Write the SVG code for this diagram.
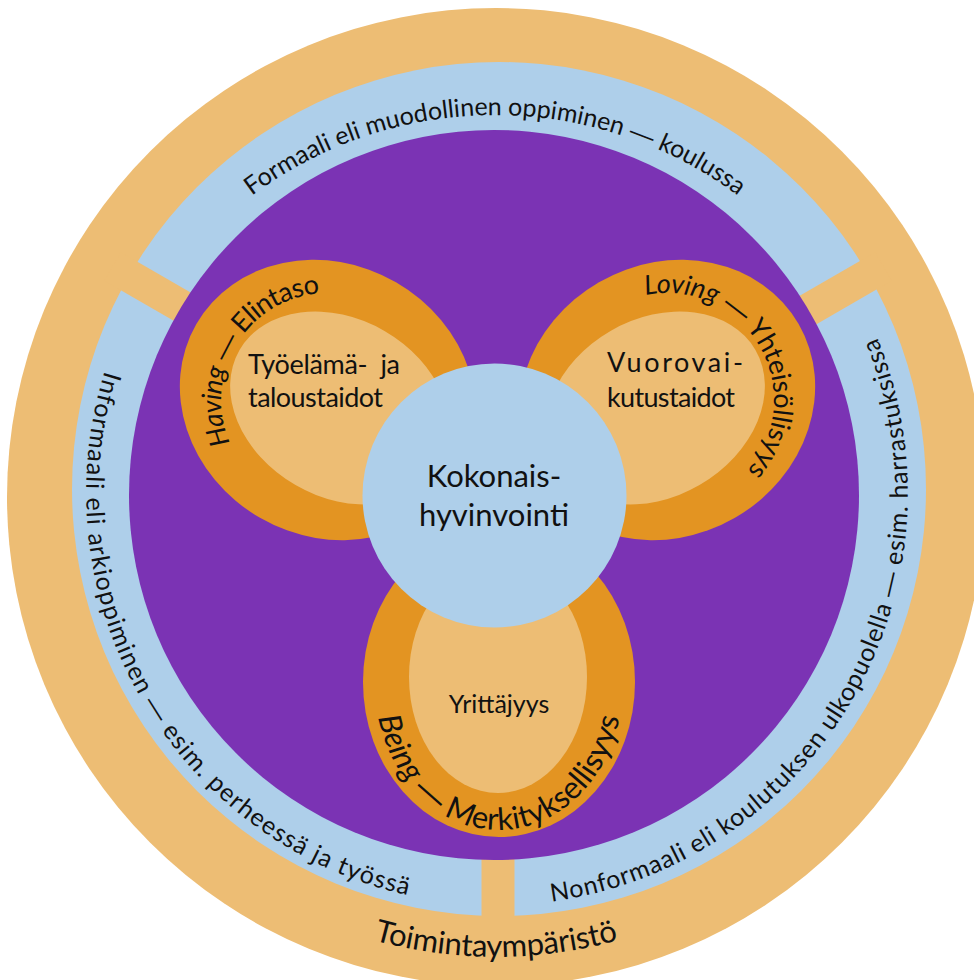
<svg xmlns="http://www.w3.org/2000/svg" xmlns:xlink="http://www.w3.org/1999/xlink" width="974" height="980" viewBox="0 0 974 980">
<style>
.sand{fill:#EDBD74}
.sky{fill:#AECFEA}
.plum{fill:#7B33B4}
.amber{fill:#E39422}
.t{font-family:Lato,"Open Sans","Liberation Sans",sans-serif;fill:#111}
.ring{font-size:25px}
.lab{font-size:27px}
.it{font-style:italic}
.d{font-family:"Liberation Sans",sans-serif;font-style:normal}
</style>
<defs>
<path id="pTop" d="M 88 522 A 407 407 0 0 1 902 522"/>
<path id="pLeft" d="M 291 137.2 A 412 412 0 0 0 703 850.8"/>
<path id="pRight" d="M 291 850.8 A 412 412 0 0 0 703 137.2"/>
<path id="pBottom" d="M 36 497 A 460 460 0 0 0 956 497"/>
<path id="pHaving" d="M 326.1 507 A 107 107 0 1 1 421.6 348.1"/>
<path id="pLoving" d="M 574.3 346.5 A 107 107 0 1 1 667 507"/>
<path id="pBeing" d="M 375 684 A 124 146 0 0 0 623 684"/>
</defs>

<g id="toimintaymparisto">
<circle class="sand" cx="496" cy="497" r="489"/>
</g>

<g id="oppiminen-rengas">
<circle class="sky" cx="499" cy="489" r="427"/>
<rect class="sand" x="481.5" y="489" width="33" height="445"/>
<rect class="sand" x="481.5" y="489" width="33" height="445" transform="rotate(120 498 489)"/>
<rect class="sand" x="481.5" y="489" width="33" height="445" transform="rotate(240 498 489)"/>
</g>

<g id="hyvinvointi-alue">
<circle class="plum" cx="494" cy="495" r="365"/>
</g>

<g id="having">
<ellipse class="amber" cx="328" cy="400" rx="152" ry="136" transform="rotate(30 328 400)"/>
<ellipse class="sand" cx="340" cy="408" rx="116" ry="89" transform="rotate(30 340 408)"/>
<text class="t lab" x="248" y="374" textLength="152" lengthAdjust="spacing">Työelämä-&#160;&#160;ja</text>
<text class="t lab" x="248" y="407" textLength="135" lengthAdjust="spacing">taloustaidot</text>
<text class="t lab"><textPath href="#pHaving" xlink:href="#pHaving" startOffset="50%" text-anchor="middle" textLength="204" lengthAdjust="spacing"><tspan class="it">Having</tspan> <tspan class="d">—</tspan> Elintaso</textPath></text>
</g>

<g id="loving">
<ellipse class="amber" cx="667" cy="400" rx="152" ry="136" transform="rotate(-30 667 400)"/>
<ellipse class="sand" cx="655" cy="408" rx="116" ry="89" transform="rotate(-30 655 408)"/>
<text class="t lab" x="607" y="372" textLength="136" lengthAdjust="spacing">Vuorovai-</text>
<text class="t lab" x="607" y="407" textLength="128" lengthAdjust="spacing">kutustaidot</text>
<text class="t lab"><textPath href="#pLoving" xlink:href="#pLoving" startOffset="50%" text-anchor="middle" textLength="267" lengthAdjust="spacing"><tspan class="it">Loving</tspan> <tspan class="d">—</tspan> Yhteisöllisyys</textPath></text>
</g>

<g id="being">
<ellipse class="amber" cx="499" cy="682" rx="136" ry="155"/>
<ellipse class="sand" cx="498" cy="677" rx="89" ry="116"/>
<text class="t" x="499" y="713" font-size="25" text-anchor="middle">Yrittäjyys</text>
<text class="t" font-size="31"><textPath href="#pBeing" xlink:href="#pBeing" startOffset="50%" text-anchor="middle" textLength="357" lengthAdjust="spacing"><tspan class="it">Being</tspan> <tspan class="d">—</tspan> Merkityksellisyys</textPath></text>
</g>

<g id="kokonaishyvinvointi">
<circle class="sky" cx="494.5" cy="495.5" r="132"/>
<text class="t" font-size="31" text-anchor="middle"><tspan x="494" y="487">Kokonais-</tspan><tspan x="494" y="526">hyvinvointi</tspan></text>
</g>

<g id="formaali">
<text class="t ring"><textPath href="#pTop" xlink:href="#pTop" startOffset="50%" text-anchor="middle" textLength="521" lengthAdjust="spacing">Formaali eli muodollinen oppiminen <tspan class="d">—</tspan> koulussa</textPath></text>
</g>
<g id="informaali">
<text class="t ring"><textPath href="#pLeft" xlink:href="#pLeft" startOffset="50%" text-anchor="middle" textLength="680" lengthAdjust="spacing">Informaali eli arkioppiminen <tspan class="d">—</tspan> esim. perheessä ja työssä</textPath></text>
</g>
<g id="nonformaali">
<text class="t ring"><textPath href="#pRight" xlink:href="#pRight" startOffset="50%" text-anchor="middle" textLength="751" lengthAdjust="spacing">Nonformaali eli koulutuksen ulkopuolella <tspan class="d">—</tspan> esim. harrastuksissa</textPath></text>
</g>
<g id="toimintaymparisto-label">
<text class="t" font-size="31"><textPath href="#pBottom" xlink:href="#pBottom" startOffset="50%" text-anchor="middle" textLength="248" lengthAdjust="spacing">Toimintaympäristö</textPath></text>
</g>
<g id="connectors"/>
</svg>
